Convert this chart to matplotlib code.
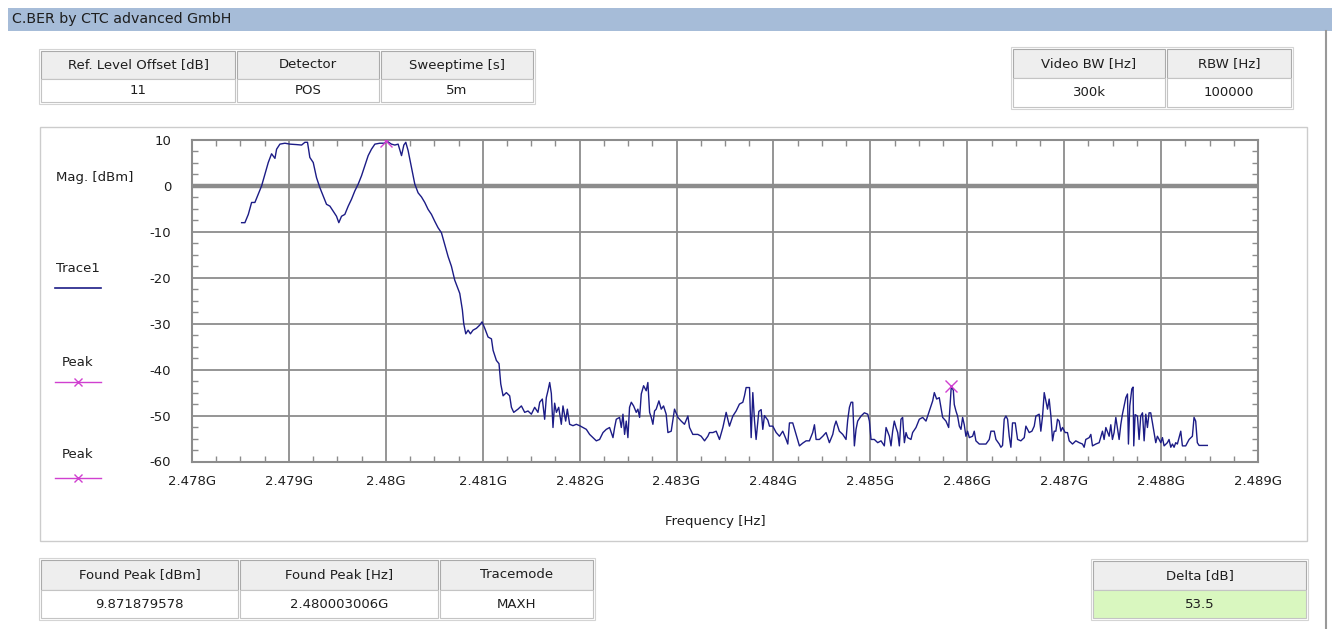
import matplotlib
matplotlib.use("Agg")
import matplotlib.pyplot as plt
from matplotlib.patches import Rectangle
from matplotlib.ticker import MultipleLocator, FuncFormatter

W, H = 1332, 629

# --- Data ---
# trace: frequency offset above 2478 MHz, level in dBm
trace_offset_mhz = [
    0.512, 0.546, 0.581, 0.615, 0.649, 0.684, 0.718, 0.753, 0.787, 0.821,
    0.856, 0.873, 0.907, 0.959, 1.010, 1.079, 1.131, 1.165, 1.192, 1.216,
    1.251, 1.285, 1.320, 1.354, 1.388, 1.423, 1.457, 1.491, 1.515, 1.543,
    1.577, 1.612, 1.646, 1.680, 1.715, 1.749, 1.784, 1.818, 1.852, 1.887,
    1.938, 1.990, 2.003, 2.058, 2.093, 2.127, 2.162, 2.186, 2.206, 2.230,
    2.265, 2.299, 2.333, 2.368, 2.402, 2.436, 2.471, 2.505, 2.539, 2.574,
    2.608, 2.643, 2.677,
    2.711, 2.763, 2.790, 2.804, 2.825, 2.849, 2.873, 2.900, 2.935, 2.969,
    2.993, 3.021, 3.055, 3.090, 3.107, 3.141, 3.168, 3.186, 3.210, 3.244,
    3.278, 3.296, 3.320, 3.364, 3.399, 3.433, 3.467, 3.502, 3.536, 3.570,
    3.588, 3.615, 3.639, 3.656, 3.673, 3.691, 3.708, 3.725, 3.742, 3.760,
    3.784, 3.811, 3.828, 3.856, 3.873, 3.897, 3.931, 3.966, 4.000, 4.034,
    4.069, 4.103, 4.137, 4.172, 4.206, 4.241, 4.275, 4.309, 4.344, 4.361,
    4.378, 4.412, 4.430, 4.447, 4.464, 4.481, 4.498, 4.515, 4.533, 4.557,
    4.584, 4.601, 4.619, 4.636, 4.660, 4.687, 4.704, 4.722, 4.739, 4.756,
    4.773, 4.790, 4.818, 4.842, 4.866, 4.893, 4.911, 4.945, 4.979, 5.014,
    5.048, 5.082, 5.117, 5.134, 5.168, 5.220, 5.254, 5.289, 5.323,
    5.340, 5.375, 5.409, 5.443, 5.478, 5.512, 5.546, 5.581, 5.615, 5.649,
    5.684, 5.701, 5.718, 5.753, 5.770, 5.787, 5.804, 5.821, 5.849, 5.873,
    5.890, 5.907, 5.942, 5.959, 5.993, 6.028, 6.062, 6.096, 6.131, 6.148,
    6.165, 6.199, 6.234, 6.268, 6.302, 6.337, 6.371, 6.405, 6.423, 6.440,
    6.474, 6.509, 6.543, 6.577, 6.612, 6.629, 6.646, 6.680, 6.715, 6.749,
    6.766, 6.784, 6.801, 6.818, 6.835, 6.852, 6.869, 6.904, 6.938, 6.973,
    6.990, 7.007, 7.041, 7.076, 7.110, 7.144, 7.162, 7.196, 7.213, 7.230,
    7.247, 7.265, 7.282, 7.299, 7.316, 7.333, 7.351, 7.368, 7.385, 7.419,
    7.436, 7.471, 7.505, 7.540, 7.574, 7.608, 7.643, 7.660, 7.684, 7.711,
    7.746, 7.780, 7.808, 7.821, 7.835, 7.856, 7.866, 7.883, 7.900, 7.918,
    7.935, 7.952, 7.969, 7.986, 8.003, 8.021, 8.055, 8.072, 8.089, 8.124,
    8.158, 8.193, 8.227, 8.244, 8.278, 8.296, 8.330, 8.347, 8.364, 8.381,
    8.399, 8.416, 8.433, 8.450, 8.467, 8.495, 8.519, 8.553, 8.588, 8.605,
    8.639, 8.667, 8.691, 8.708, 8.742, 8.759, 8.777, 8.794, 8.811, 8.828,
    8.845, 8.863, 8.880, 8.897, 8.914, 8.931, 8.948, 8.966, 8.983, 9.010,
    9.034, 9.052, 9.086, 9.120, 9.155, 9.189, 9.206, 9.223, 9.258, 9.275,
    9.292, 9.326, 9.361, 9.395, 9.412, 9.430, 9.464, 9.481, 9.498, 9.515,
    9.533, 9.567, 9.584, 9.601, 9.636, 9.653, 9.663, 9.677, 9.698, 9.711,
    9.718, 9.732, 9.756, 9.773, 9.790, 9.808, 9.825, 9.842, 9.859, 9.876,
    9.893, 9.911, 9.945, 9.962, 9.979, 9.997, 10.014, 10.031, 10.065, 10.082,
    10.100, 10.117, 10.134, 10.151, 10.168, 10.186, 10.203, 10.220, 10.254, 10.289,
    10.323, 10.340, 10.357, 10.374, 10.392, 10.477,
]
trace_level_dbm = [
    -8.0, -8.0, -6.2, -3.6, -3.6, -1.8, 0.0, 2.6, 5.1, 7.0,
    6.0, 8.0, 9.1, 9.3, 9.1, 9.0, 8.9, 9.5, 9.5, 6.2,
    5.1, 1.8, -0.4, -2.2, -4.0, -4.4, -5.5, -6.6, -8.0, -6.6,
    -6.2, -4.4, -2.9, -1.1, 0.4, 2.2, 4.4, 6.6, 8.0, 9.1,
    9.3, 9.3, 9.87, 9.1, 8.9, 9.1, 6.6, 8.9, 9.5, 7.7,
    4.0, 0.4, -1.5, -2.4, -3.6, -5.1, -6.2, -7.7, -9.1, -10.2,
    -12.8, -15.4, -17.5,
    -20.5, -23.4, -27.0, -30.0, -32.2, -31.4, -32.2, -31.4, -31.0, -30.3,
    -29.6, -31.0, -32.9, -33.3, -35.8, -38.0, -38.7, -43.1, -45.7, -45.0,
    -45.7, -48.2, -49.3, -48.6, -47.9, -49.3, -49.0, -49.7, -48.2, -49.3,
    -47.1, -46.4, -50.8, -46.1, -44.6, -42.8, -45.2, -52.6, -47.3, -49.3,
    -48.2, -51.9, -47.9, -51.2, -48.6, -51.9, -52.2, -51.9, -52.2, -52.6,
    -53.0, -54.1, -54.8, -55.5, -55.2, -53.7, -53.0, -52.6, -54.8, -52.6,
    -50.8, -50.4, -52.6, -49.7, -54.1, -51.2, -54.8, -48.2, -47.1, -47.9,
    -49.3, -48.6, -50.4, -45.3, -43.5, -44.6, -42.8, -49.3, -50.4, -51.9,
    -49.0, -48.6, -46.8, -48.6, -47.9, -49.7, -53.7, -53.4, -48.6, -50.4,
    -51.2, -51.9, -50.1, -52.6, -54.1, -54.1, -54.5, -55.5, -54.5,
    -53.7, -53.7, -53.4, -55.2, -52.6, -49.3, -52.3, -50.1, -49.0, -47.5,
    -47.1, -45.7, -43.9, -43.9, -54.8, -45.0, -51.0, -55.2, -49.1, -48.7,
    -53.0, -50.0, -51.0, -52.3, -52.3, -53.7, -54.5, -53.4, -55.2, -56.2,
    -51.6, -51.6, -54.1, -56.6, -56.0, -55.5, -55.5, -53.7, -52.0, -55.2,
    -55.2, -54.5, -53.7, -55.9, -54.1, -52.3, -51.2, -53.4, -54.1, -55.2,
    -51.0, -48.2, -47.1, -47.1, -56.6, -53.0, -51.2, -50.1, -49.4, -49.7,
    -51.2, -55.2, -55.2, -55.9, -55.5, -56.6, -52.6, -54.5, -56.6, -53.4,
    -51.2, -52.6, -53.7, -56.6, -50.8, -50.4, -55.9, -53.7, -54.8, -55.2,
    -53.7, -52.6, -50.8, -50.4, -51.2, -49.0, -46.8, -45.0, -46.4, -46.1,
    -50.4, -51.2, -52.6, -48.2, -43.63, -44.5, -47.6, -49.0, -50.1, -52.3,
    -53.0, -50.4, -52.0, -54.5, -53.4, -54.8, -54.5, -53.4, -55.5, -56.2,
    -56.2, -56.2, -55.2, -53.4, -53.4, -55.2, -56.2, -56.9, -56.5, -50.8,
    -50.1, -50.8, -54.5, -56.9, -51.6, -51.6, -55.2, -55.5, -54.8, -52.3,
    -53.7, -53.4, -52.3, -50.1, -49.7, -53.4, -50.1, -45.0, -46.8, -48.6,
    -46.4, -50.1, -55.5, -53.4, -53.4, -50.8, -51.2, -53.4, -52.6, -53.7,
    -53.7, -55.5, -56.2, -55.5, -55.9, -56.2, -56.9, -55.2, -54.8, -54.1,
    -56.6, -56.2, -55.9, -53.4, -55.2, -52.6, -54.5, -52.0, -55.2, -53.7,
    -50.4, -55.2, -52.0, -49.7, -46.1, -45.3, -56.2, -47.9, -44.2, -43.8,
    -56.6, -49.8, -50.1, -55.2, -50.1, -49.4, -55.5, -49.7, -52.6, -49.4,
    -49.4, -51.6, -55.9, -54.5, -55.2, -55.9, -54.8, -56.6, -55.9, -55.2,
    -56.9, -56.2, -56.9, -55.9, -56.2, -54.8, -53.4, -56.6, -56.6, -55.2,
    -54.5, -50.4, -51.2, -55.9, -56.5, -56.5,
]
START_MHZ = 2478.0

peak_freq_ghz = 2.480003006
peak_level_dbm = 9.871879578
marker_freq_ghz = 2.485835
marker_level_dbm = -43.63

top_left_headers = ["Ref. Level Offset [dB]", "Detector", "Sweeptime [s]"]
top_left_values = ["11", "POS", "5m"]
top_right_headers = ["Video BW [Hz]", "RBW [Hz]"]
top_right_values = ["300k", "100000"]
bottom_headers = ["Found Peak [dBm]", "Found Peak [Hz]", "Tracemode"]
bottom_values = ["9.871879578", "2.480003006G", "MAXH"]
delta_headers = ["Delta [dB]"]
delta_values = ["53.5"]

# --- Style ---
plt.rcParams['font.family'] = ['DejaVu Sans']
plt.rcParams['axes.unicode_minus'] = False
FS = 9.5
TEXT_COLOR = '#1e1e1e'
TRACE_COLOR = '#1c1c86'
PEAK_COLOR = '#d040d0'
GRID_COLOR = '#8c8c8c'

fig = plt.figure(figsize=(W / 100, H / 100), dpi=100, facecolor='white')

# background layer in pixel coordinates
bg = fig.add_axes([0, 0, 1, 1], zorder=0)
bg.set_xlim(0, W)
bg.set_ylim(H, 0)
bg.axis('off')

# title bar
bg.add_patch(Rectangle((8, 8), W - 8, 23, fc='#a6bcd8', ec='none'))
bg.text(12, 19.5, 'C.BER by CTC advanced GmbH', ha='left', va='center',
        fontsize=10.2, color=TEXT_COLOR)

# window border on the right
bg.plot([1326, 1326], [31, H], color='#999999', lw=1.5)

# plot panel
bg.add_patch(Rectangle((40, 127), 1267, 414, fc='white', ec='#cccccc', lw=1))


def draw_table(x0, y0, widths, hh, vh, headers, values, vcolor='white'):
    x = x0
    for w, htxt, vtxt in zip(widths, headers, values):
        bg.add_patch(Rectangle((x, y0), w, hh, fc='#eeeeee', ec='#aaaaaa', lw=0.8))
        bg.add_patch(Rectangle((x, y0 + hh), w, vh, fc=vcolor, ec='#c4c4c4', lw=0.8))
        bg.text(x + w / 2, y0 + hh / 2, htxt, ha='center', va='center',
                fontsize=FS, color=TEXT_COLOR)
        bg.text(x + w / 2, y0 + hh + vh / 2, vtxt, ha='center', va='center',
                fontsize=FS, color=TEXT_COLOR)
        x += w + 2
    bg.add_patch(Rectangle((x0 - 2, y0 - 2), x - x0 + 2, hh + vh + 4,
                           fc='none', ec='#d4d4d4', lw=0.8))


draw_table(41, 51, [194, 142, 152], 28, 23, top_left_headers, top_left_values)
draw_table(1013, 49, [152, 124], 29, 29, top_right_headers, top_right_values)
draw_table(41, 560, [197, 198, 153], 30, 28, bottom_headers, bottom_values)
draw_table(1093, 561, [213], 29, 28, delta_headers, delta_values, vcolor='#d9f7bf')

# legend column
bg.text(95, 177, 'Mag. [dBm]', ha='center', va='center', fontsize=FS, color=TEXT_COLOR)
bg.text(78, 268, 'Trace1', ha='center', va='center', fontsize=FS, color=TEXT_COLOR)
bg.plot([55, 101], [288, 288], color=TRACE_COLOR, lw=1.2)
for ty, ly in [(362, 382), (455, 478)]:
    bg.text(78, ty, 'Peak', ha='center', va='center', fontsize=FS, color=TEXT_COLOR)
    bg.plot([55, 101], [ly, ly], color=PEAK_COLOR, lw=1)
    bg.plot([78], [ly], marker='x', ms=6, color=PEAK_COLOR, mew=1)

bg.text(715, 521, 'Frequency [Hz]', ha='center', va='center', fontsize=FS, color=TEXT_COLOR)

# --- Main plot ---
ax_left, ax_right, ax_top, ax_bottom = 192, 1258, 140, 461.5
ax = fig.add_axes([ax_left / W, 1 - ax_bottom / H,
                   (ax_right - ax_left) / W, (ax_bottom - ax_top) / H], zorder=1)

freq_ghz = [(START_MHZ + f) / 1000.0 for f in trace_offset_mhz]
ax.axhline(0, color=GRID_COLOR, lw=3.2, zorder=1)
ax.plot(freq_ghz, trace_level_dbm, color=TRACE_COLOR, lw=1.0, zorder=3)
ax.plot([marker_freq_ghz], [marker_level_dbm], marker='x', ms=8, mew=1,
        color=PEAK_COLOR, ls='none', zorder=4)
ax.plot([peak_freq_ghz], [peak_level_dbm], marker='x', ms=8, mew=1,
        color=PEAK_COLOR, ls='none', zorder=4)

ax.set_xlim(2.478, 2.489)
ax.set_ylim(-60, 10)
ax.xaxis.set_major_locator(MultipleLocator(0.001))
ax.xaxis.set_minor_locator(MultipleLocator(0.00025))
ax.yaxis.set_major_locator(MultipleLocator(10))
ax.yaxis.set_minor_locator(MultipleLocator(2.5))
ax.xaxis.set_major_formatter(
    FuncFormatter(lambda v, _: f"{v:.3f}".rstrip('0').rstrip('.') + 'G'))
ax.yaxis.set_major_formatter(FuncFormatter(lambda v, _: f"{v:.0f}"))

ax.grid(True, which='major', color=GRID_COLOR, lw=1.3)
ax.set_axisbelow(True)
for s in ax.spines.values():
    s.set_color(GRID_COLOR)
    s.set_linewidth(1.5)
ax.tick_params(which='both', direction='in', top=True, right=True, color=GRID_COLOR)
ax.tick_params(which='major', length=0, labelsize=FS, labelcolor=TEXT_COLOR)
ax.tick_params(which='minor', length=4, width=1)
ax.tick_params(axis='x', which='major', pad=10)
ax.tick_params(axis='y', which='major', pad=15)

fig.savefig('out.png', dpi=100, facecolor='white')
